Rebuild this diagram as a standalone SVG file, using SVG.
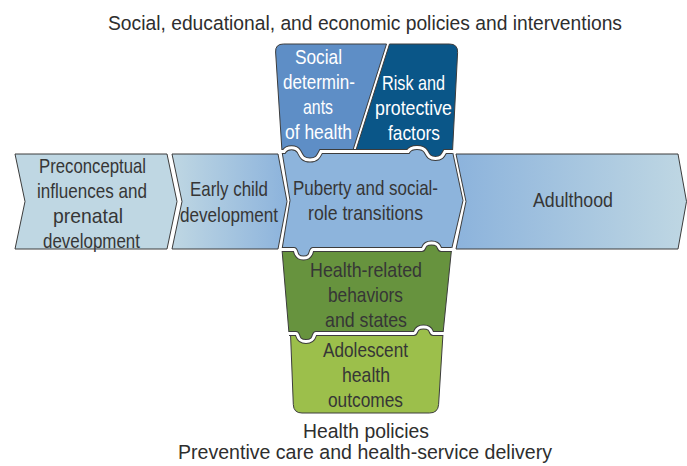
<svg xmlns="http://www.w3.org/2000/svg" xmlns:xlink="http://www.w3.org/1999/xlink" width="687" height="466" viewBox="0 0 687 466">
<style>
.o{stroke:#3c3c3c;stroke-width:1;stroke-linejoin:round}
.t{font-family:"Liberation Sans","Arial",sans-serif;font-size:21px;fill:#363636;text-anchor:middle}
.tw{fill:#ffffff}
.h{font-family:"Liberation Sans","Arial",sans-serif;font-size:20.5px;fill:#2e2e2e;text-anchor:middle}
.jd{fill:none;stroke:#3c3c3c;stroke-width:5}
.jw{fill:none;stroke:#ffffff;stroke-width:3;stroke-linecap:square}
</style>
<defs>
<linearGradient id="gEarly" x1="0" y1="0" x2="1" y2="0">
<stop offset="0" stop-color="#bfd7e3"/><stop offset="1" stop-color="#8cb3dc"/>
</linearGradient>
<linearGradient id="gAdult" x1="0" y1="0" x2="1" y2="0">
<stop offset="0" stop-color="#8cb3dc"/><stop offset="1" stop-color="#bfd7e3"/>
</linearGradient>
<path id="j1" d="M 282 151.5 L 284 151.5 C 287 146.5, 296 146.5, 299 151.5 C 301 155, 302 160, 310 160 C 318 160, 319 155, 321 151.5 L 408 151.5 C 411 146, 423 146, 426 151.5 C 428 155, 429 158.5, 435.5 158.5 C 442 158.5, 443 155, 445 151.5 L 452.5 151.5"/>
<path id="j2" d="M 282 249.5 L 294 249.5 C 297 249.5, 294 258, 303.5 258 C 313 258, 310 249.5, 313 249.5 L 422 249.5 C 425 249.5, 422 243, 431.5 243 C 441 243, 438 249.5, 441 249.5 L 451.5 249.5"/>
<path id="j3" d="M 289 333.5 L 296 333.5 C 299 333.5, 296 341.5, 306 341.5 C 316 341.5, 313 333.5, 316 333.5 L 414 333.5 C 417 333.5, 414 327, 423.5 327 C 433 327, 430 333.5, 433 333.5 L 443 333.5"/>
</defs>
<rect width="687" height="466" fill="#ffffff"/>

<text class="h" x="365" y="30" textLength="514" lengthAdjust="spacingAndGlyphs">Social, educational, and economic policies and interventions</text>

<g id="preconceptual">
<path class="o" fill="#bfd7e3" d="M 15 154 L 167 154 L 177 201.5 L 167 249 L 15 249 L 25 201.5 Z"/>
<text class="t" x="92.5" y="173" textLength="107" lengthAdjust="spacingAndGlyphs">Preconceptual</text>
<text class="t" x="92" y="198" textLength="110" lengthAdjust="spacingAndGlyphs">influences and</text>
<text class="t" x="88" y="223" textLength="70" lengthAdjust="spacingAndGlyphs">prenatal</text>
<text class="t" x="91.5" y="248" textLength="97" lengthAdjust="spacingAndGlyphs">development</text>
</g>

<g id="early-child">
<path class="o" fill="url(#gEarly)" d="M 172 154 L 278 154 L 287 201.5 L 278 249 L 172 249 L 182 201.5 Z"/>
<text class="t" x="229" y="196" textLength="78" lengthAdjust="spacingAndGlyphs">Early child</text>
<text class="t" x="229" y="222" textLength="98" lengthAdjust="spacingAndGlyphs">development</text>
</g>

<g id="adulthood">
<path class="o" fill="url(#gAdult)" d="M 456 154 L 678 154 L 686.5 201.5 L 678 249 L 456 249 L 466 201.5 Z"/>
<text class="t" x="573" y="207" textLength="80" lengthAdjust="spacingAndGlyphs">Adulthood</text>
</g>

<g id="social-determinants">
<path class="o" fill="#5e8ec6" d="M 282 151.5 L 275.6 52 Q 275.2 44 283.5 44 L 386.5 44 L 352.5 151.5 L 321 151.5 C 319 155, 318 160, 310 160 C 302 160, 301 155, 299 151.5 C 296 146.5, 287 146.5, 284 151.5 Z"/>
<text class="t tw" x="318.5" y="64" textLength="47" lengthAdjust="spacingAndGlyphs">Social</text>
<text class="t tw" x="319" y="89" textLength="72" lengthAdjust="spacingAndGlyphs">determin-</text>
<text class="t tw" x="318" y="114" textLength="30" lengthAdjust="spacingAndGlyphs">ants</text>
<text class="t tw" x="318.5" y="139" textLength="67" lengthAdjust="spacingAndGlyphs">of health</text>
</g>

<g id="risk-protective">
<path class="o" fill="#0a5688" d="M 389.5 44 L 449.5 44 Q 458 44 457.6 52.5 L 452.5 151.5 L 445 151.5 C 443 155, 442 158.5, 435.5 158.5 C 429 158.5, 428 155, 426 151.5 C 423 146, 411 146, 408 151.5 L 355.5 151.5 Z"/>
<text class="t tw" x="413.5" y="90" textLength="63" lengthAdjust="spacingAndGlyphs">Risk and</text>
<text class="t tw" x="413.5" y="115" textLength="77" lengthAdjust="spacingAndGlyphs">protective</text>
<text class="t tw" x="414" y="140" textLength="52" lengthAdjust="spacingAndGlyphs">factors</text>
</g>

<g id="puberty">
<path class="o" fill="#8db4dc" d="M 282 151.5 L 284 151.5 C 287 146.5, 296 146.5, 299 151.5 C 301 155, 302 160, 310 160 C 318 160, 319 155, 321 151.5 L 408 151.5 C 411 146, 423 146, 426 151.5 C 428 155, 429 158.5, 435.5 158.5 C 442 158.5, 443 155, 445 151.5 L 452.5 151.5 L 463 200.5 L 451.5 249.5 L 441 249.5 C 438 249.5, 441 243, 431.5 243 C 422 243, 425 249.5, 422 249.5 L 313 249.5 C 310 249.5, 313 258, 303.5 258 C 294 258, 297 249.5, 294 249.5 L 282 249.5 L 290 200.5 Z"/>
<text class="t" x="365.5" y="195" textLength="145" lengthAdjust="spacingAndGlyphs">Puberty and social-</text>
<text class="t" x="365.5" y="220" textLength="115" lengthAdjust="spacingAndGlyphs">role transitions</text>
</g>

<g id="health-behaviors">
<path class="o" fill="#67933e" d="M 282 249.5 L 294 249.5 C 297 249.5, 294 258, 303.5 258 C 313 258, 310 249.5, 313 249.5 L 422 249.5 C 425 249.5, 422 243, 431.5 243 C 441 243, 438 249.5, 441 249.5 L 451.5 249.5 L 443 333.5 L 433 333.5 C 430 333.5, 433 327, 423.5 327 C 414 327, 417 333.5, 414 333.5 L 316 333.5 C 313 333.5, 316 341.5, 306 341.5 C 296 341.5, 299 333.5, 296 333.5 L 289 333.5 Z"/>
<text class="t" x="366" y="277" textLength="112" lengthAdjust="spacingAndGlyphs">Health-related</text>
<text class="t" x="365.5" y="302" textLength="75" lengthAdjust="spacingAndGlyphs">behaviors</text>
<text class="t" x="366" y="327" textLength="82" lengthAdjust="spacingAndGlyphs">and states</text>
</g>

<g id="adolescent-outcomes">
<path class="o" fill="#9cbf4b" d="M 290.5 333.5 L 296 333.5 C 299 333.5, 296 341.5, 306 341.5 C 316 341.5, 313 333.5, 316 333.5 L 414 333.5 C 417 333.5, 414 327, 423.5 327 C 433 327, 430 333.5, 433 333.5 L 443 333.5 L 438.6 404.5 Q 438 413 429.5 413 L 302 413 Q 293.6 413 293.3 404.5 Z"/>
<text class="t" x="365.5" y="357" textLength="85" lengthAdjust="spacingAndGlyphs">Adolescent</text>
<text class="t" x="366" y="382" textLength="48" lengthAdjust="spacingAndGlyphs">health</text>
<text class="t" x="365.5" y="407" textLength="75" lengthAdjust="spacingAndGlyphs">outcomes</text>
</g>

<g id="joints">
<use xlink:href="#j1" class="jd"/><use xlink:href="#j1" class="jw"/>
<use xlink:href="#j2" class="jd"/><use xlink:href="#j2" class="jw"/>
<use xlink:href="#j3" class="jd"/><use xlink:href="#j3" class="jw"/>
</g>

<text class="h" x="366" y="438" textLength="126" lengthAdjust="spacingAndGlyphs">Health policies</text>
<text class="h" x="365" y="459" textLength="374" lengthAdjust="spacingAndGlyphs">Preventive care and health-service delivery</text>
</svg>
